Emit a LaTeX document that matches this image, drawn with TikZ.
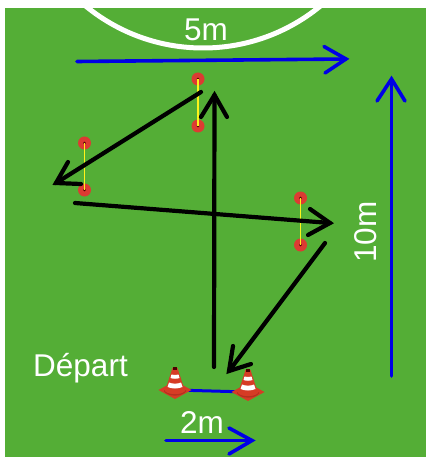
\documentclass[tikz,border=0pt]{standalone}
\usepackage{fontspec}
\setmainfont{Liberation Sans}
\definecolor{grass}{HTML}{54AE36}
\definecolor{bluearrow}{HTML}{0000E6}
\definecolor{spotred}{HTML}{DC3B32}
\definecolor{conered}{HTML}{D63C25}
\definecolor{conedark}{HTML}{B5321F}
\tikzset{
 px/.style={x=1pt,y=-1pt},
 label/.style={text=white,font=\fontsize{31.5}{32}\selectfont,inner sep=0pt,anchor=center},
 run/.style={draw=black,line width=4.2pt,line cap=round,line join=miter},
 measure/.style={draw=bluearrow,line width=3.6pt,line cap=round,line join=miter},
 spot/.style={circle,fill=spotred,minimum size=13pt,inner sep=0pt,path picture={\fill[black!70!red] (path picture bounding box.center) circle (1.3pt);}},
 pairlink/.style={draw=yellow!90!white,line width=1.2pt},
}
\newcommand{\conepic}[1]{%
 \begin{scope}[shift={(#1)}]
  \fill[conered] (-16.5,0) -- (0,-9) -- (16.5,0) -- (0,9) -- cycle;
  \fill[conedark] (-11,0) .. controls (-7,5.5) and (7,5.5) .. (11,0) -- (11,1.5) .. controls (7,7) and (-7,7) .. (-11,1.5) -- cycle;
  \fill[conered] (-10,1) .. controls (-6,5) and (6,5) .. (10,1) -- (2.5,-22) -- (-2.5,-22) -- cycle;
  \fill[black!70!red] (-1.6,-23) rectangle (1.6,-20.5);
  \fill[white] (-4.5,-12) .. controls (-2,-11) and (2,-11) .. (4.5,-12) -- (3.6,-15.5) .. controls (1.5,-14.8) and (-1.5,-14.8) .. (-3.6,-15.5) -- cycle;
  \fill[white] (-7.5,-3) .. controls (-3,-1) and (3,-1) .. (7.5,-3) -- (6,-7.5) .. controls (3,-6) and (-3,-6) .. (-6,-7.5) -- cycle;
 \end{scope}}
\begin{document}
\begin{tikzpicture}[px]
\useasboundingbox (0,0) rectangle (426,457);
\fill[white] (0,0) rectangle (426,457);
\fill[grass] (5,8) rectangle (426,457);
\begin{scope}
 \clip (5,8) rectangle (426,457);
 \draw[white,line width=5pt] (203,-137) circle (185);
\end{scope}
% labels
\node[label] (five) at (206,30) {5m};
\node[label] (ten) at (366,232) [rotate=90] {10m};
\node[label] (depart) at (80.5,368) {Départ};
\node[label] (two) at (202,422) {2m};
% measure arrows
\coordinate (m5a) at (77,61.5); \coordinate (m5b) at (346,59);
\draw[measure] (m5a) -- (m5b);
\draw[measure] (324,46.5) -- (m5b) -- (325,73);
\coordinate (m10a) at (391.5,376); \coordinate (m10b) at (391.5,79);
\draw[measure] (m10a) -- (m10b);
\draw[measure] (377,101) -- (m10b) -- (405,101);
\coordinate (m2a) at (166,440.5); \coordinate (m2b) at (252,440.5);
\draw[measure] (m2a) -- (m2b);
\draw[measure] (229,428) -- (m2b) -- (229,454);
% spots
\node[spot] (s1a) at (198,79) {};
\node[spot] (s1b) at (198,126) {};
\node[spot] (s2a) at (84.5,143) {};
\node[spot] (s2b) at (84.5,190) {};
\node[spot] (s3a) at (300.5,198) {};
\node[spot] (s3b) at (300.5,245) {};
\draw[pairlink] (s1a.center) -- (s1b.center);
\draw[pairlink] (s2a.center) -- (s2b.center);
\draw[pairlink] (s3a.center) -- (s3b.center);
% cones
\coordinate (c1) at (175,390);
\coordinate (c2) at (248,392);
\draw[measure,line width=3pt] (c1) -- (c2);
\conepic{175,390}
\conepic{248,392}
% runs
\coordinate (r1) at (214,367); \coordinate (r2) at (214.5,95);
\draw[run] (r1) -- (r2);
\draw[run] (201,117) -- (r2) -- (227,117);
\coordinate (r3) at (201,92); \coordinate (r4) at (56,183);
\draw[run] (r3) -- (r4);
\draw[run] (68,162) -- (r4) -- (81,184);
\coordinate (r5) at (75,203); \coordinate (r6) at (330,223);
\draw[run] (r5) -- (r6);
\draw[run] (310,209) -- (r6) -- (308,235);
\coordinate (r7) at (325,243); \coordinate (r8) at (229,371);
\draw[run] (r7) -- (r8);
\draw[run] (233,346) -- (r8) -- (251,364);
\end{tikzpicture}
\end{document}
